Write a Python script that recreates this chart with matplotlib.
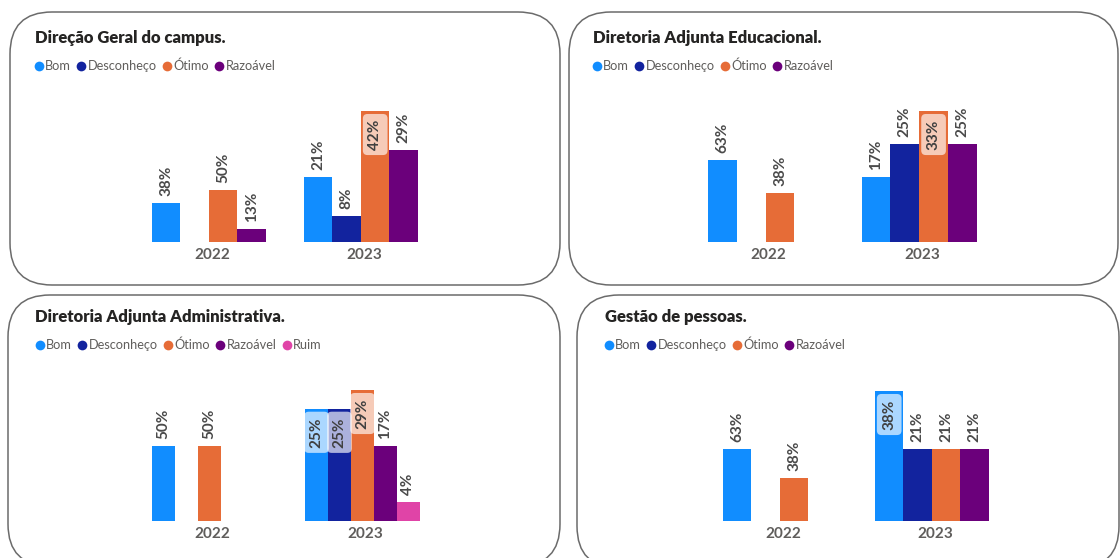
import matplotlib
matplotlib.use("Agg")
import matplotlib.pyplot as plt
from matplotlib.patches import FancyBboxPatch
from matplotlib.lines import Line2D

W, H = 1120, 558

# categories / colours (Power BI default palette)
categories = ["Bom", "Desconheço", "Ótimo", "Razoável", "Ruim"]
colors = ["#118DFF", "#12239E", "#E66C37", "#6B007B", "#E044A7"]
years = ["2022", "2023"]

titles = ["Direção Geral do campus.",
          "Diretoria Adjunta Educacional.",
          "Diretoria Adjunta Administrativa.",
          "Gestão de pessoas."]

# answer counts per category (0 = no bar)
direcao_2022 = [3, 0, 4, 1]
direcao_2023 = [5, 2, 10, 7]
educacional_2022 = [5, 0, 3, 0]
educacional_2023 = [4, 6, 8, 6]
administrativa_2022 = [4, 0, 4, 0, 0]
administrativa_2023 = [6, 6, 7, 4, 1]
pessoas_2022 = [5, 0, 3, 0]
pessoas_2023 = [9, 5, 5, 5]

panels = [
    (titles[0], direcao_2022, direcao_2023),
    (titles[1], educacional_2022, educacional_2023),
    (titles[2], administrativa_2022, administrativa_2023),
    (titles[3], pessoas_2022, pessoas_2023),
]

# layout in pixels
frames = [(10, 12, 560, 285), (569, 12, 1118, 285),
          (8, 295, 560, 566), (577, 295, 1119, 568)]
plot_areas = [(136, 111, 440, 242), (692, 111, 999, 242),
              (136, 390, 442, 521), (707, 391, 1011, 521)]
title_pos = [(35, 38), (593, 38), (35, 317), (605, 317)]
legend_pos = [(35, 66), (593, 66), (36, 345), (605, 345)]

plt.rcParams['font.family'] = ['Lato', 'DejaVu Sans']

fig = plt.figure(figsize=(W / 100, H / 100), dpi=100)

bg = fig.add_axes([0, 0, 1, 1])
bg.set_xlim(0, W)
bg.set_ylim(H, 0)
bg.axis('off')


def px_box(l, t, r, b):
    return [l / W, 1 - b / H, (r - l) / W, (b - t) / H]


for i, (title, v2022, v2023) in enumerate(panels):
    # rounded frame
    x0, y0, x1, y1 = frames[i]
    bg.add_patch(FancyBboxPatch((x0, y0), x1 - x0, y1 - y0,
                                boxstyle="round,pad=0,rounding_size=42",
                                fc='white', ec='#6b6b6b', lw=1.1))
    bg.text(title_pos[i][0], title_pos[i][1], title, fontsize=12,
            fontweight='heavy', color='#252423', va='center', ha='left')

    n = len(v2022)
    ax = fig.add_axes(px_box(*plot_areas[i]))
    ax.set_xlim(-0.5, 1.5)
    vmax = max(max(v2022), max(v2023))
    ax.set_ylim(0, vmax)

    group = 0.75
    bw = group / n
    # bars sit a little left of the year label
    shift = -0.02
    for yi, vals in enumerate([v2022, v2023]):
        total = sum(vals)
        for c, v in enumerate(vals):
            if v == 0:
                continue
            x = yi + shift - group / 2 + bw * (c + 0.5)
            ax.bar(x, v, width=bw, color=colors[c], linewidth=0)
            pct = "{}%".format(int(100 * v / total + 0.5))
            if v / vmax > 0.8:
                ax.annotate(pct, (x, v), xytext=(0, -6), textcoords='offset points',
                            rotation=90, ha='center', va='top', fontsize=11,
                            fontweight='bold', color='#404040', clip_on=False,
                            bbox=dict(boxstyle='round,pad=0.35,rounding_size=0.3',
                                      fc='white', ec='none', alpha=0.65))
            else:
                ax.annotate(pct, (x, v), xytext=(0, 5), textcoords='offset points',
                            rotation=90, ha='center', va='bottom', fontsize=11,
                            fontweight='bold', color='#4a4a4a', clip_on=False)

    ax.set_xticks([0, 1])
    ax.set_xticklabels(years, fontsize=11, color='#605E5C', fontweight='bold')
    ax.tick_params(axis='x', length=0, pad=4)
    ax.set_yticks([])
    for s in ax.spines.values():
        s.set_visible(False)
    ax.patch.set_alpha(0)

    # legend
    handles = [Line2D([], [], marker='o', linestyle='none', markersize=7,
                      markerfacecolor=colors[c], markeredgewidth=0)
               for c in range(n)]
    lx, ly = legend_pos[i]
    leg = ax.legend(handles, categories[:n], loc='center left',
                    bbox_to_anchor=(lx / W, 1 - ly / H),
                    bbox_transform=fig.transFigure, ncol=n, frameon=False,
                    fontsize=9.2, handlelength=0.6, handletextpad=0.2,
                    columnspacing=0.5, borderpad=0, borderaxespad=0)
    for t in leg.get_texts():
        t.set_color('#605E5C')

plt.savefig("out.png", dpi=100)
